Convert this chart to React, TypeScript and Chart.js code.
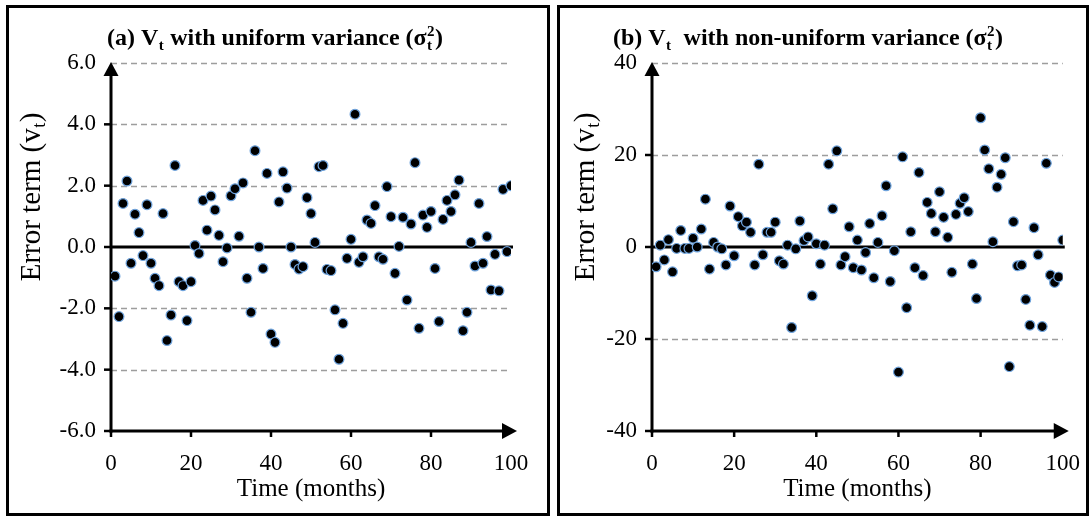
import React, { useEffect, useRef } from 'react';
import { Chart, registerables } from 'chart.js';

Chart.register(...registerables);

// ---------------- data ----------------
const months = [
  1, 2, 3, 4, 5, 6, 7, 8, 9, 10,
  11, 12, 13, 14, 15, 16, 17, 18, 19, 20,
  21, 22, 23, 24, 25, 26, 27, 28, 29, 30,
  31, 32, 33, 34, 35, 36, 37, 38, 39, 40,
  41, 42, 43, 44, 45, 46, 47, 48, 49, 50,
  51, 52, 53, 54, 55, 56, 57, 58, 59, 60,
  61, 62, 63, 64, 65, 66, 67, 68, 69, 70,
  71, 72, 73, 74, 75, 76, 77, 78, 79, 80,
  81, 82, 83, 84, 85, 86, 87, 88, 89, 90,
  91, 92, 93, 94, 95, 96, 97, 98, 99, 100,
];

const uniformErrors = [
  -0.95, -2.27, 1.42, 2.15, -0.53, 1.07, 0.47, -0.28, 1.38, -0.53,
  -1.02, -1.26, 1.09, -3.05, -2.22, 2.66, -1.13, -1.26, -2.4, -1.13,
  0.05, -0.21, 1.52, 0.55, 1.66, 1.21, 0.38, -0.48, -0.03, 1.67,
  1.9, 0.35, 2.09, -1.02, -2.13, 3.14, 0.0, -0.7, 2.4, -2.84,
  -3.11, 1.47, 2.45, 1.92, 0.0, -0.57, -0.72, -0.64, 1.61, 1.09,
  0.15, 2.62, 2.66, -0.73, -0.77, -2.05, -3.66, -2.49, -0.37, 0.25,
  4.33, -0.5, -0.32, 0.88, 0.77, 1.35, -0.32, -0.4, 1.97, 0.99,
  -0.86, 0.02, 0.97, -1.73, 0.75, 2.75, -2.65, 1.04, 0.64, 1.16,
  -0.7, -2.43, 0.9, 1.52, 1.16, 1.7, 2.18, -2.73, -2.13, 0.15,
  -0.62, 1.42, -0.53, 0.34, -1.4, -0.24, -1.43, 1.88, -0.15, 2.0,
];

const nonUniformErrors = [
  -4.3, 0.4, -2.8, 1.6, -5.4, -0.3, 3.6, -0.3, -0.3, 1.9,
  0.0, 3.9, 10.4, -4.8, 1.0, 0.0, -0.4, -3.9, 8.9, -1.9,
  6.6, 4.6, 5.4, 3.2, -3.9, 18.0, -1.7, 3.2, 3.2, 5.4,
  -3.0, -3.7, 0.4, -17.5, -0.4, 5.65, 1.4, 2.2, -10.6, 0.7,
  -3.7, 0.4, 18.0, 8.3, 20.9, -3.9, -2.1, 4.4, -4.5, 1.5,
  -5.0, -1.2, 5.1, -6.7, 1.0, 6.8, 13.3, -7.5, -0.8, -27.2,
  19.6, -13.2, 3.3, -4.5, 16.2, -6.2, 9.7, 7.3, 3.3, 12.0,
  6.45, 2.1, -5.5, 7.1, 9.5, 10.7, 7.7, -3.7, -11.2, 28.1,
  21.1, 17.0, 1.15, 13.0, 15.8, 19.4, -26.0, 5.5, -4.1, -3.9,
  -11.4, -17.0, 4.2, -1.7, -17.3, 18.2, -6.1, -7.7, -6.5, 1.5,
];

const xTicks = [0, 20, 40, 60, 80, 100];
const uniformYTicks = [-6, -4, -2, 0, 2, 4, 6];
const nonUniformYTicks = [-40, -20, 0, 20, 40];

// ---------------- styling ----------------
const SERIF = '"Liberation Serif", "Times New Roman", serif';

type Seg = { t?: string; sub?: string; sup?: string };

interface PanelSpec {
  values: number[];
  yTicks: number[];
  decimals: number;
  canvasLeft: number;
  canvasWidth: number;
  axisWidth: number;
  rightPad: number;
  box: { x: number; y: number; w: number; h: number };
  title: Seg[];
  titleX: number;
  yTitleX: number;
}

function drawRich(ctx: CanvasRenderingContext2D, segs: Seg[], cx: number, cy: number, size: number, weight: string) {
  const main = `${weight} ${size}px ${SERIF}`;
  const small = `${weight} ${Math.round(size * 0.62)}px ${SERIF}`;
  const widths = segs.map((s) => {
    if (s.t !== undefined) { ctx.font = main; return ctx.measureText(s.t).width; }
    ctx.font = small;
    return Math.max(s.sub ? ctx.measureText(s.sub).width : 0, s.sup ? ctx.measureText(s.sup).width : 0) + 1;
  });
  const total = widths.reduce((a, b) => a + b, 0);
  let x = cx - total / 2;
  ctx.textBaseline = 'alphabetic';
  ctx.textAlign = 'left';
  ctx.fillStyle = '#000';
  const base = cy + size * 0.33;
  segs.forEach((s, i) => {
    if (s.t !== undefined) {
      ctx.font = main;
      ctx.fillText(s.t, x, base);
    } else {
      ctx.font = small;
      if (s.sub) ctx.fillText(s.sub, x + 0.5, base + size * 0.2);
      if (s.sup) ctx.fillText(s.sup, x + 0.5, base - size * 0.38);
    }
    x += widths[i];
  });
}

function framePlugin(p: PanelSpec) {
  const line = (ctx: CanvasRenderingContext2D, x1: number, y1: number, x2: number, y2: number) => {
    ctx.beginPath();
    ctx.moveTo(x1, y1);
    ctx.lineTo(x2, y2);
    ctx.stroke();
  };
  return {
    id: 'frame',
    beforeDraw(chart: any) {
      const ctx: CanvasRenderingContext2D = chart.ctx;
      ctx.save();
      ctx.fillStyle = '#fff';
      ctx.fillRect(0, 0, chart.width, chart.height);
      ctx.strokeStyle = '#000';
      ctx.lineWidth = 3;
      ctx.strokeRect(p.box.x, p.box.y, p.box.w, p.box.h);
      ctx.restore();
    },
    beforeDatasetsDraw(chart: any) {
      const ctx: CanvasRenderingContext2D = chart.ctx;
      const xs = chart.scales.x;
      const ys = chart.scales.y;
      const yMin = p.yTicks[0];
      const yMax = p.yTicks[p.yTicks.length - 1];
      const x0 = xs.getPixelForValue(0);
      const x100 = xs.getPixelForValue(100);
      const yb = ys.getPixelForValue(yMin);
      const yt = ys.getPixelForValue(yMax);
      ctx.save();
      // dashed grid lines
      ctx.strokeStyle = '#9d9d9d';
      ctx.lineWidth = 1.4;
      ctx.setLineDash([6, 4]);
      p.yTicks.forEach((v) => {
        if (v === 0 || v === yMin) return;
        const py = Math.round(ys.getPixelForValue(v)) + 0.5;
        line(ctx, x0, py, x100, py);
      });
      ctx.setLineDash([]);
      // zero line
      ctx.strokeStyle = '#000';
      ctx.lineWidth = 3;
      const pz = ys.getPixelForValue(0);
      line(ctx, x0, pz, x100 + 2, pz);
      // y axis with arrow
      line(ctx, x0, yb + 1.5, x0, yt + 10);
      ctx.fillStyle = '#000';
      ctx.beginPath();
      ctx.moveTo(x0, yt - 1);
      ctx.lineTo(x0 - 7.5, yt + 13);
      ctx.lineTo(x0 + 7.5, yt + 13);
      ctx.closePath();
      ctx.fill();
      // x axis with arrow
      const tip = x100 + 6;
      line(ctx, x0 - 1.5, yb, tip - 10, yb);
      ctx.beginPath();
      ctx.moveTo(tip, yb);
      ctx.lineTo(tip - 15, yb - 8);
      ctx.lineTo(tip - 15, yb + 8);
      ctx.closePath();
      ctx.fill();
      // tick marks
      ctx.lineWidth = 2.5;
      p.yTicks.forEach((v) => {
        if (v === yMax) return;
        const py = ys.getPixelForValue(v);
        line(ctx, x0 - 7, py, x0, py);
      });
      xTicks.forEach((v) => {
        if (v === 100) return;
        const px = xs.getPixelForValue(v);
        line(ctx, px, yb, px, yb + 6);
      });
      ctx.restore();
    },
    afterDraw(chart: any) {
      const ctx: CanvasRenderingContext2D = chart.ctx;
      ctx.save();
      drawRich(ctx, p.title, p.titleX, 37, 24, 'bold');
      const ys = chart.scales.y;
      const cy = (ys.getPixelForValue(p.yTicks[p.yTicks.length - 1]) + ys.getPixelForValue(0)) / 2 + 42;
      ctx.translate(p.yTitleX, cy);
      ctx.rotate(-Math.PI / 2);
      drawRich(ctx, [{ t: 'Error term (v' }, { sub: 't' }, { t: ')' }], 0, 0, 29, 'normal');
      ctx.restore();
    },
  };
}

function buildConfig(p: PanelSpec): any {
  const font = { family: SERIF, size: 23 };
  return {
    type: 'scatter',
    data: {
      datasets: [
        {
          data: months.map((m, i) => ({ x: m, y: p.values[i] })),
          backgroundColor: '#000',
          borderColor: '#6fa3dc',
          borderWidth: 1.2,
          pointRadius: 4.9,
          pointHoverRadius: 4.9,
        },
      ],
    },
    options: {
      responsive: false,
      animation: false,
      devicePixelRatio: 1,
      events: [],
      layout: { padding: { left: 0, top: 63, right: p.rightPad, bottom: 0 } },
      plugins: { legend: { display: false }, tooltip: { enabled: false }, title: { display: false } },
      scales: {
        x: {
          type: 'linear',
          min: 0,
          max: 100,
          afterBuildTicks: (s: any) => { s.ticks = xTicks.map((v) => ({ value: v })); },
          grid: { display: false },
          border: { display: false },
          ticks: { font, color: '#000', padding: 11, maxRotation: 0, autoSkip: false },
          title: { display: true, text: 'Time (months)', font: { family: SERIF, size: 25 }, color: '#000', padding: { top: 0, bottom: 16 } },
          afterFit: (s: any) => { s.height = 89; },
        },
        y: {
          type: 'linear',
          min: p.yTicks[0],
          max: p.yTicks[p.yTicks.length - 1],
          afterBuildTicks: (s: any) => { s.ticks = p.yTicks.map((v) => ({ value: v })); },
          grid: { display: false },
          border: { display: false },
          ticks: {
            font,
            color: '#000',
            padding: 7,
            autoSkip: false,
            callback: (v: number) => v.toFixed(p.decimals),
          },
          afterFit: (s: any) => { s.width = p.axisWidth; },
        },
      },
    },
    plugins: [framePlugin(p)],
  };
}

const panels: PanelSpec[] = [
  {
    values: uniformErrors,
    yTicks: uniformYTicks,
    decimals: 1,
    canvasLeft: 0,
    canvasWidth: 553,
    axisWidth: 111,
    rightPad: 42,
    box: { x: 7.5, y: 6.5, w: 541, h: 508 },
    title: [{ t: '(a) V' }, { sub: 't' }, { t: ' with uniform variance (σ' }, { sub: 't', sup: '2' }, { t: ')' }],
    titleX: 275,
    yTitleX: 30,
  },
  {
    values: nonUniformErrors,
    yTicks: nonUniformYTicks,
    decimals: 0,
    canvasLeft: 553,
    canvasWidth: 538,
    axisWidth: 99,
    rightPad: 26,
    box: { x: 5.5, y: 6.5, w: 529, h: 508 },
    title: [{ t: '(b) V' }, { sub: 't' }, { t: '  with non-uniform variance (σ' }, { sub: 't', sup: '2' }, { t: ')' }],
    titleX: 255,
    yTitleX: 31,
  },
];

function Panel({ spec }: { spec: PanelSpec }) {
  const ref = useRef<HTMLCanvasElement>(null);
  useEffect(() => {
    if (!ref.current) return;
    const chart = new Chart(ref.current, buildConfig(spec));
    return () => chart.destroy();
  }, [spec]);
  return (
    <canvas
      ref={ref}
      width={spec.canvasWidth}
      height={520}
      style={{ position: 'absolute', left: spec.canvasLeft, top: 0, width: spec.canvasWidth, height: 520 }}
    />
  );
}

export default function App() {
  return (
    <div style={{ position: 'fixed', left: 0, top: 0, width: 1091, height: 520, background: '#fff', overflow: 'hidden' }}>
      {panels.map((p, i) => (
        <Panel key={i} spec={p} />
      ))}
    </div>
  );
}
